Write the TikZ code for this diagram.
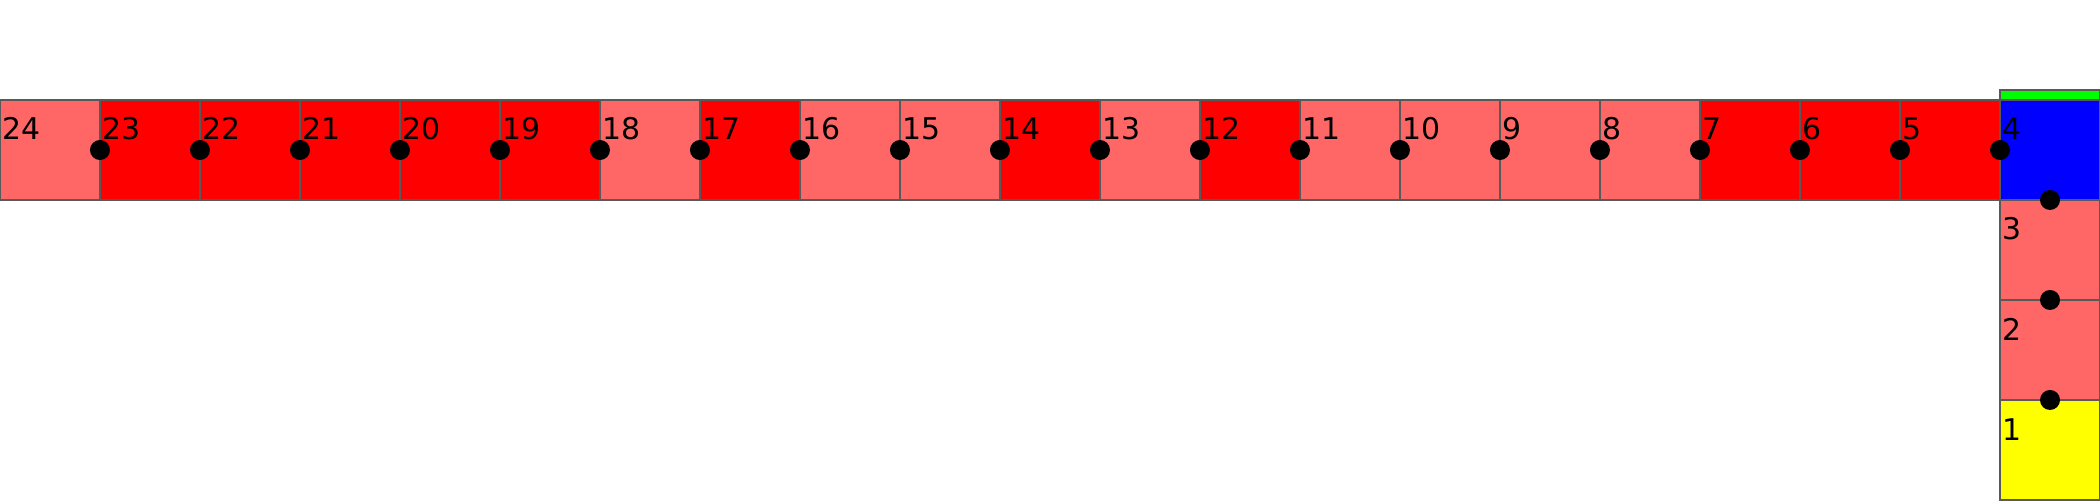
\documentclass[tikz,border=0pt]{standalone}
\usepackage{fontspec}
\setmainfont{DejaVu Sans}
\definecolor{lred}{HTML}{FF6666}
\definecolor{dred}{HTML}{FF0000}
\definecolor{bblue}{HTML}{0000FF}
\definecolor{ggreen}{HTML}{00FF00}
\definecolor{yyellow}{HTML}{FFFF00}
\begin{document}
\begin{tikzpicture}[x=0.01cm,y=-0.01cm,
  cell/.style={draw=black!65,line width=0.35pt,minimum width=1cm,minimum height=1cm,inner sep=0pt,outer sep=0pt},
  lab/.style={anchor=base west,inner sep=0pt,font=\fontsize{8.5}{10}\selectfont},
  dot/.style={circle,fill=black,minimum size=0.2cm,inner sep=0pt}]
\useasboundingbox (0,0) rectangle (2100,500);
% horizontal row: cell n at x = (24-n)*100
\foreach \n/\c in {24/lred,23/dred,22/dred,21/dred,20/dred,19/dred,18/lred,17/dred,16/lred,15/lred,14/dred,13/lred,12/dred,11/lred,10/lred,9/lred,8/lred,7/dred,6/dred,5/dred,4/bblue}{
  \pgfmathsetmacro{\xx}{(24-\n)*100+50}
  \node[cell,fill=\c] (c\n) at (\xx,150) {};
}
\node[cell,fill=lred] (c3) at (2050,250) {};
\node[cell,fill=lred] (c2) at (2050,350) {};
\node[cell,fill=yyellow] (c1) at (2050,450) {};
\node[draw=black!65,line width=0.35pt,fill=ggreen,minimum width=1cm,minimum height=0.1cm,inner sep=0pt,outer sep=0pt,anchor=south] (g) at (c4.north) {};
% labels
\foreach \n in {24,23,...,4}{
  \node[lab] (l\n) at ([xshift=0.02cm,yshift=-0.4cm]c\n.north west) {\n};
}
\foreach \n in {3,2,1}{
  \node[lab] (l\n) at ([xshift=0.02cm,yshift=-0.4cm]c\n.north west) {\n};
}
% dots
\foreach \n in {23,22,...,4}{
  \node[dot] (d\n) at (c\n.west) {};
}
\node[dot] (d3) at (c3.north) {};
\node[dot] (d2) at (c2.north) {};
\node[dot] (d1) at (c1.north) {};
\end{tikzpicture}
\end{document}
